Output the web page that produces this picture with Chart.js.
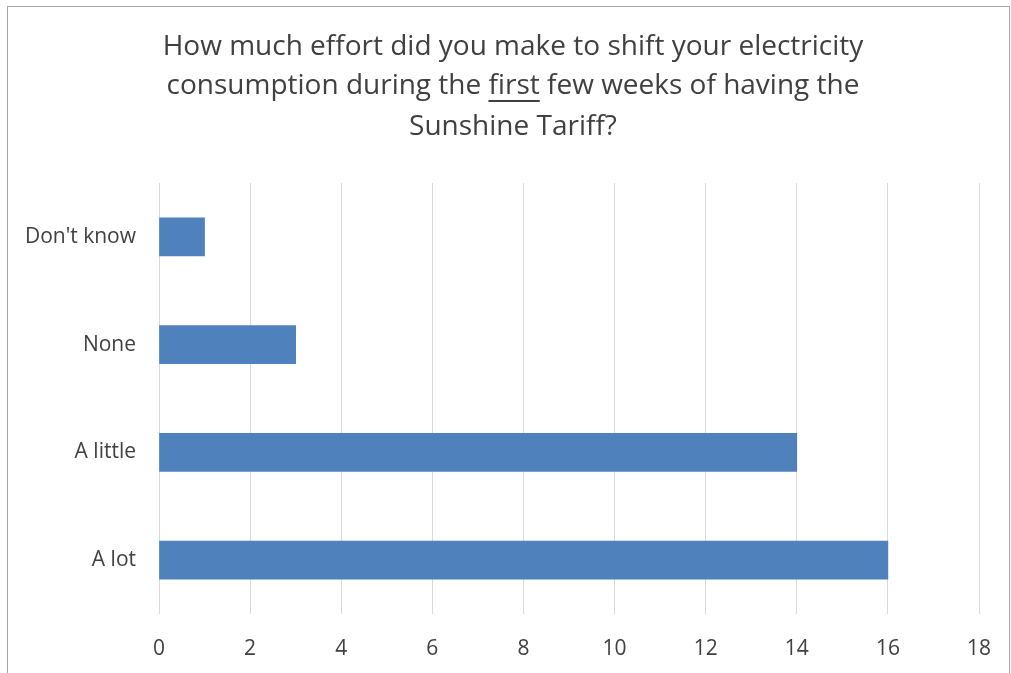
<!DOCTYPE html>
<html>
<head>
<meta charset="utf-8">
<script src="https://cdn.jsdelivr.net/npm/chart.js@4/dist/chart.umd.min.js"></script>
<style>
  body { margin: 0; background: #fff; }
  canvas { display: block; }
</style>
</head>
<body>
<canvas id="effortChart" width="1011" height="673"></canvas>
<script>
// data
const categories = ["Don't know", 'None', 'A little', 'A lot'];
const counts = [1, 3, 14, 16];
const titleLines = [
	'How much effort did you make to shift your electricity',
	'consumption during the first few weeks of having the',
	'Sunshine Tariff?'
];

const textColor = '#404040';
const fontFamily = '"Open Sans", "Noto Sans", sans-serif';

// 제목 + 테두리 그리는 플러그인
const frameTitle = {
	id: 'frameTitle',
	afterDraw(chart) {
		const ctx = chart.ctx;
		ctx.save();
		// chart border
		ctx.strokeStyle = '#a6a6a6';
		ctx.lineWidth = 1;
		ctx.strokeRect(7.5, 6.5, 1002, 700);

		ctx.fillStyle = textColor;
		ctx.font = '28px ' + fontFamily;
		ctx.textAlign = 'center';
		ctx.textBaseline = 'middle';
		const cx = 513;
		const ys = [47, 86, 127];
		titleLines.forEach((line, i) => ctx.fillText(line, cx, ys[i]));

		// underline "first"
		const line = titleLines[1];
		const left = cx - ctx.measureText(line).width / 2;
		const pre = ctx.measureText('consumption during the ').width;
		const w = ctx.measureText('first').width;
		ctx.fillRect(left + pre, 100, w, 2);
		ctx.restore();
	}
};

new Chart(document.getElementById('effortChart'), {
	type: 'bar',
	data: {
		labels: categories,
		datasets: [{
			data: counts,
			backgroundColor: '#4f81bd',
			barThickness: 38
		}]
	},
	options: {
		indexAxis: 'y',
		responsive: false,
		animation: false,
		devicePixelRatio: 1,
		layout: { padding: { top: 183, right: 32, left: 0, bottom: 0 } },
		plugins: {
			legend: { display: false },
			title: { display: false },
			tooltip: { enabled: false }
		},
		scales: {
			x: {
				min: 0,
				max: 18,
				ticks: { stepSize: 2, color: textColor, font: { family: fontFamily, size: 21 }, padding: 22 },
				grid: { color: '#d9d9d9', drawTicks: false, lineWidth: 1 },
				border: { display: false },
				afterFit(scale) {
					scale.height = 59;
					scale.paddingLeft = 0;
					scale.paddingRight = 0;
				}
			},
			y: {
				ticks: { color: textColor, font: { family: fontFamily, size: 21 }, padding: 23 },
				grid: { display: false, drawTicks: false },
				border: { display: false },
				afterFit(scale) { scale.width = 159; }
			}
		}
	},
	plugins: [frameTitle]
});
</script>
</body>
</html>
